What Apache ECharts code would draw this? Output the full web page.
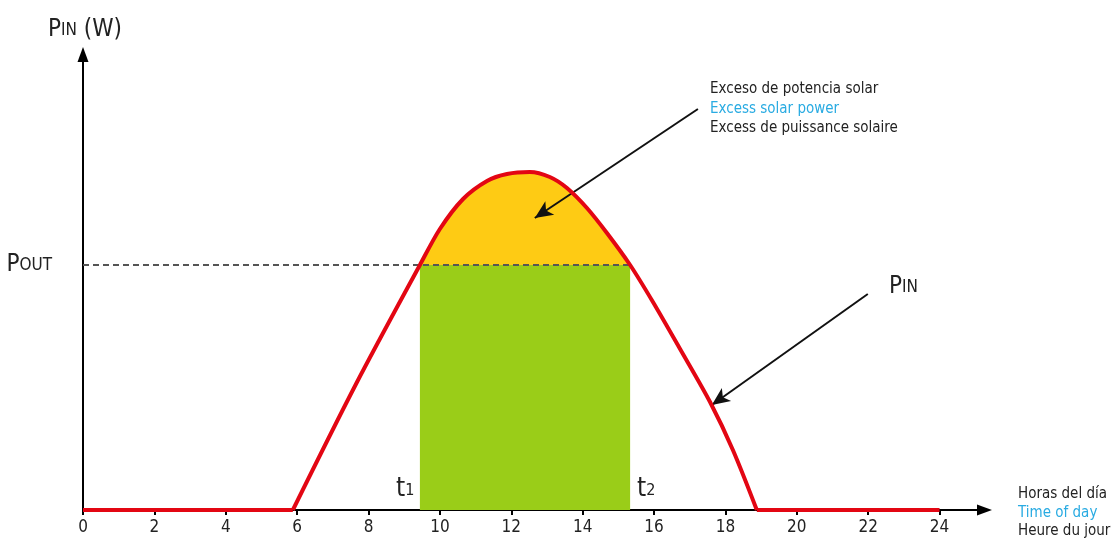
<!DOCTYPE html>
<html>
<head>
<meta charset="utf-8">
<script src="https://cdn.jsdelivr.net/npm/echarts@6/dist/echarts.min.js"></script>
<style>
  html, body { margin: 0; padding: 0; background: #fff; }
  #chart { width: 1113px; height: 538px; }
</style>
</head>
<body>
<div id="chart"></div>
<script>
// hours of the day (x) and input power (y, arbitrary W units)
const dayHours = [5.88, 7.65, 9.44, 10.0, 10.65, 11.32, 11.88, 12.52, 13.08, 13.56, 14.12, 14.68, 15.33, 15.97, 16.73, 17.57, 18.21, 18.88]
const dayPin = [0, 126, 245, 281, 311, 329, 336, 338, 333, 322, 302, 277, 245, 208, 161, 108, 60, 0]
const pOut = 245
const t1 = 9.44
const t2 = 15.33
const xTicks = [0, 2, 4, 6, 8, 10, 12, 14, 16, 18, 20, 22, 24]

const FONT = "'Liberation Sans Narrow', 'DejaVu Sans Condensed', sans-serif"
const RED = '#e30613'
const CYAN = '#29abe2'

const curve = dayHours.map((h, i) => [h, dayPin[i]])
const excess = curve.filter(p => p[0] >= t1 && p[0] <= t2)

// "P" + small caps suffix on the same baseline
const capsRich = (big, small, color) => ({
  p: { fontSize: big, fontFamily: FONT, fill: color, color: color, verticalAlign: 'bottom' },
  s: { fontSize: small, fontFamily: FONT, fill: color, color: color, verticalAlign: 'bottom', padding: [0, 0, 3, 0] }
})

const chart = echarts.init(document.getElementById('chart'))
chart.setOption({
  animation: false,
  grid: { left: 83, right: 128.5, top: 54.5, bottom: 28 },
  xAxis: {
    type: 'value',
    min: 0,
    max: 25.26,
    splitLine: { show: false },
    axisLine: {
      lineStyle: { color: '#000', width: 2 },
      symbol: ['none', 'triangle'],
      symbolSize: [11, 15]
    },
    axisTick: { customValues: xTicks, length: 5, lineStyle: { color: '#000', width: 2 } },
    axisLabel: { customValues: xTicks, color: '#222', fontSize: 17, fontFamily: FONT, margin: 9 }
  },
  yAxis: {
    type: 'value',
    min: 0,
    max: 455.5,
    splitLine: { show: false },
    axisLine: {
      show: true,
      lineStyle: { color: '#000', width: 2 },
      symbol: ['none', 'triangle'],
      symbolSize: [11, 15]
    },
    axisTick: { show: false },
    axisLabel: {
      customValues: [pOut],
      margin: 31,
      formatter: () => '{p|P}{s|OUT}',
      rich: capsRich(24, 17, '#222')
    }
  },
  series: [
    {
      name: 'excess',
      type: 'line',
      data: excess,
      smooth: 0.3,
      symbol: 'none',
      lineStyle: { width: 0 },
      areaStyle: { color: '#fecb14', opacity: 1, origin: pOut },
      z: 1
    },
    {
      name: 'used',
      type: 'line',
      data: [[t1, pOut], [t2, pOut]],
      symbol: 'none',
      lineStyle: { width: 0 },
      areaStyle: { color: '#9acd18', opacity: 1 },
      z: 2
    },
    {
      name: 'pout',
      type: 'line',
      data: [[0, pOut], [t2, pOut]],
      symbol: 'none',
      lineStyle: { color: '#555', width: 2, type: [6, 4] },
      z: 3
    },
    {
      name: 'night1',
      type: 'line',
      data: [[0, 0], [dayHours[0], 0]],
      symbol: 'none',
      lineStyle: { color: RED, width: 4 },
      z: 4
    },
    {
      name: 'night2',
      type: 'line',
      data: [[dayHours[dayHours.length - 1], 0], [24, 0]],
      symbol: 'none',
      lineStyle: { color: RED, width: 4 },
      z: 4
    },
    {
      name: 'pin',
      type: 'line',
      data: curve,
      smooth: 0.3,
      symbol: 'none',
      lineStyle: { color: RED, width: 4 },
      z: 5,
      markLine: {
        silent: true,
        symbol: ['none', 'arrow'],
        symbolSize: [12, 18],
        label: { show: false },
        lineStyle: { color: '#111', width: 2, type: 'solid' },
        data: [
          [{ coord: [17.23, 401] }, { coord: [12.66, 292] }],
          [{ coord: [21.99, 216] }, { coord: [17.62, 105] }]
        ]
      }
    }
  ],
  graphic: [
    {
      type: 'text', left: 48, top: 18,
      style: { text: '{p|P}{s|IN}{p| (W)}', rich: capsRich(24, 17, '#222') }
    },
    {
      type: 'text', left: 889, top: 275,
      style: { text: '{p|P}{s|IN}', rich: capsRich(24, 17, '#222') }
    },
    {
      type: 'text', left: 396, top: 476,
      style: { text: '{p|t}{s|1}', rich: capsRich(26, 16, '#222') }
    },
    {
      type: 'text', left: 637, top: 476,
      style: { text: '{p|t}{s|2}', rich: capsRich(26, 16, '#222') }
    },
    {
      type: 'text', left: 710, top: 82,
      style: {
        text: '{a|Exceso de potencia solar}\n{b|Excess solar power}\n{a|Excess de puissance solaire}',
        rich: {
          a: { fontSize: 15, fontFamily: FONT, fill: '#222', lineHeight: 19.5 },
          b: { fontSize: 15, fontFamily: FONT, fill: CYAN, lineHeight: 19.5 }
        }
      }
    },
    {
      type: 'text', left: 1018, top: 487,
      style: {
        text: '{a|Horas del día}\n{b|Time of day}\n{a|Heure du jour}',
        rich: {
          a: { fontSize: 15, fontFamily: FONT, fill: '#222', lineHeight: 18.5 },
          b: { fontSize: 15, fontFamily: FONT, fill: CYAN, lineHeight: 18.5 }
        }
      }
    }
  ]
})
</script>
</body>
</html>
